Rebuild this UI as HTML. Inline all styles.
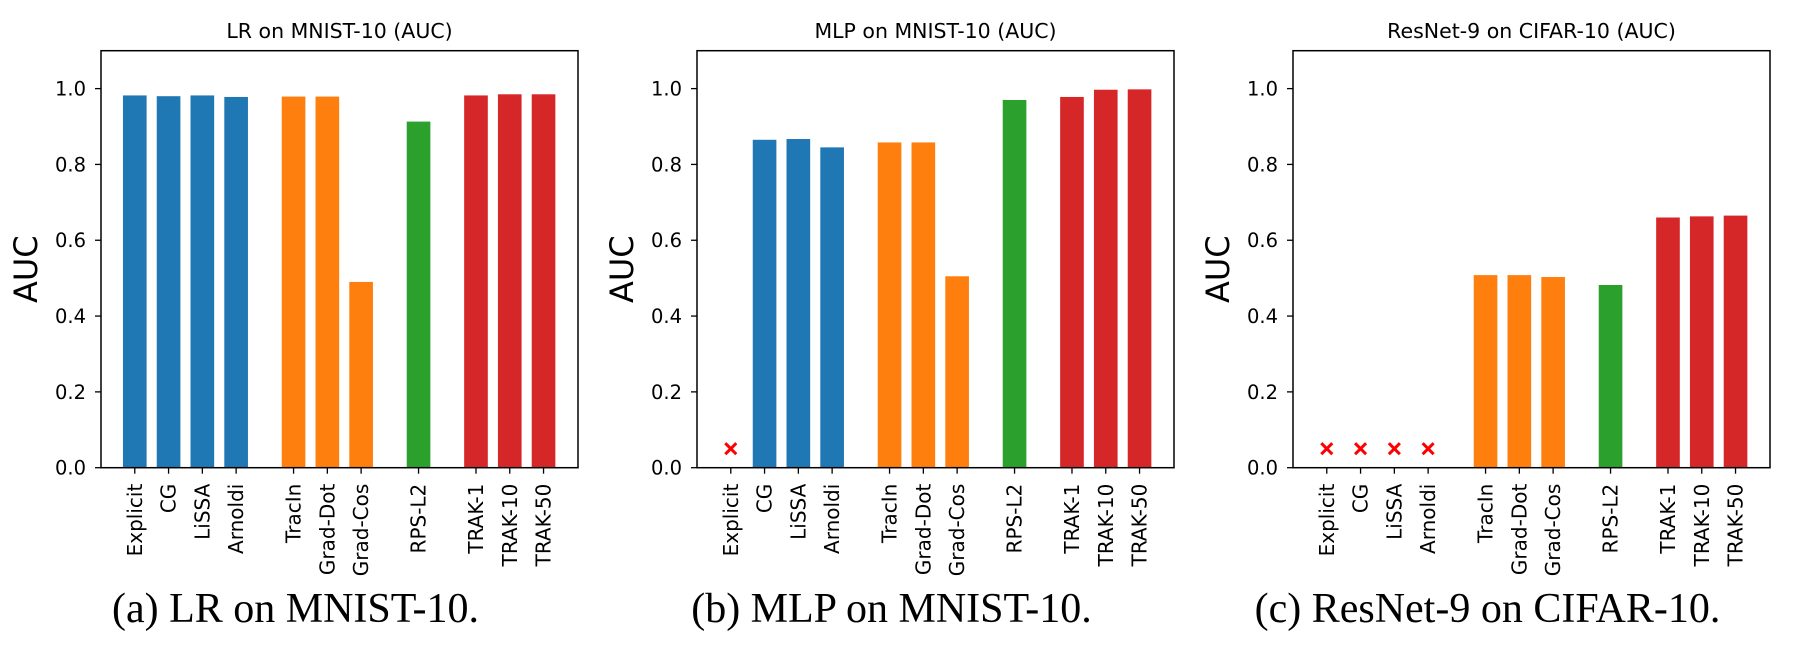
<!DOCTYPE html>
<html><head><meta charset="utf-8"><style>
html,body{margin:0;padding:0;background:#fff;}
svg{display:block;}
text{font-family:"DejaVu Sans","Liberation Sans",sans-serif;fill:#000;}
.cap{font-family:"Liberation Serif",serif;}
</style></head><body>
<svg id="fig" width="1808" height="653" viewBox="0 0 1808 653"></svg>
<script>
const categories = ["Explicit","CG","LiSSA","Arnoldi","TracIn","Grad-Dot","Grad-Cos","RPS-L2","TRAK-1","TRAK-10","TRAK-50"];
const groupIdx = [0,0,0,0,1,1,1,2,3,3,3];
const xPos = [0,1,2,3,4.7,5.7,6.7,8.4,10.1,11.1,12.1];
const valuesA = [0.982,0.980,0.982,0.978,0.979,0.979,0.490,0.913,0.982,0.985,0.985];
const valuesB = [null,0.865,0.867,0.845,0.858,0.858,0.505,0.970,0.978,0.997,0.998];
const valuesC = [null,null,null,null,0.508,0.508,0.503,0.482,0.660,0.663,0.665];
const yTicks = [0.0,0.2,0.4,0.6,0.8,1.0];
const titles = ["LR on MNIST-10 (AUC)","MLP on MNIST-10 (AUC)","ResNet-9 on CIFAR-10 (AUC)"];
const captions = ["(a) LR on MNIST-10.","(b) MLP on MNIST-10.","(c) ResNet-9 on CIFAR-10."];
const colors = ["#1f77b4","#ff7f0e","#2ca02c","#d62728"];
const NS="http://www.w3.org/2000/svg";
const svg=document.getElementById('fig');
function mk(tag,attrs,parent){const e=document.createElementNS(NS,tag);for(const k in attrs)e.setAttribute(k,attrs[k]);(parent||svg).appendChild(e);return e;}
const panels=[{left:101,vals:valuesA},{left:697,vals:valuesB},{left:1293,vals:valuesC}];
const W=477, yTop=50.7, yBottom=467.7, ymax=1.1, xmin=-1.0, xmax=13.12;
panels.forEach((p,pi)=>{
  const g=mk('g',{});
  
  
  const xs=v=>p.left+(v-xmin)/(xmax-xmin)*W;
  const ys=v=>yBottom-v/ymax*(yBottom-yTop);
  const bw=0.7*W/(xmax-xmin);
  categories.forEach((c,i)=>{
    const v=p.vals[i];
    if(v===null){
      const cx=xs(xPos[i]), cy=ys(0.05), s=5.5;
      const m=mk('path',{d:`M${cx-s},${cy-s}L${cx+s},${cy+s}M${cx-s},${cy+s}L${cx+s},${cy-s}`,stroke:'#ff0000','stroke-width':3,fill:'none'},g);
      
      
    } else {
      const r=mk('rect',{x:xs(xPos[i])-bw/2,y:ys(v),width:bw,height:ys(0)-ys(v),fill:colors[groupIdx[i]]},g);
      
      
    }
    const tx=xs(xPos[i]);
    mk('line',{x1:tx,x2:tx,y1:yBottom,y2:yBottom+6,stroke:'#000','stroke-width':1.3},g);
    const t=mk('text',{x:0,y:0,'font-size':20,'text-anchor':'end','dominant-baseline':'central',transform:`translate(${tx},${yBottom+16}) rotate(-90)`},g);
    t.textContent=c;
    
    
  });
  yTicks.forEach(v=>{
    const y=ys(v);
    mk('line',{x1:p.left-6,x2:p.left,y1:y,y2:y,stroke:'#000','stroke-width':1.3},g);
    const t=mk('text',{x:p.left-15,y:y+7,'font-size':19.5,'text-anchor':'end'},g);
    t.textContent=v.toFixed(1);
    
    
  });
  const fr=mk('rect',{x:p.left,y:yTop,width:W,height:yBottom-yTop,fill:'none',stroke:'#000','stroke-width':1.5},g);
  
  
  const tt=mk('text',{x:p.left+W/2,y:38,'font-size':20.5,'text-anchor':'middle'},g);
  tt.textContent=titles[pi];
  
  
  const yl=mk('text',{x:0,y:0,'font-size':32,'text-anchor':'middle',transform:`translate(${p.left-64},${(yTop+yBottom)/2+10}) rotate(-90)`},g);
  yl.textContent='AUC';
  
  
  const cp=mk('text',{x:p.left+W/2-44,y:622,'font-size':42,'text-anchor':'middle','class':'cap'},g);
  cp.textContent=captions[pi];
  
  
});
</script>
</body></html>
